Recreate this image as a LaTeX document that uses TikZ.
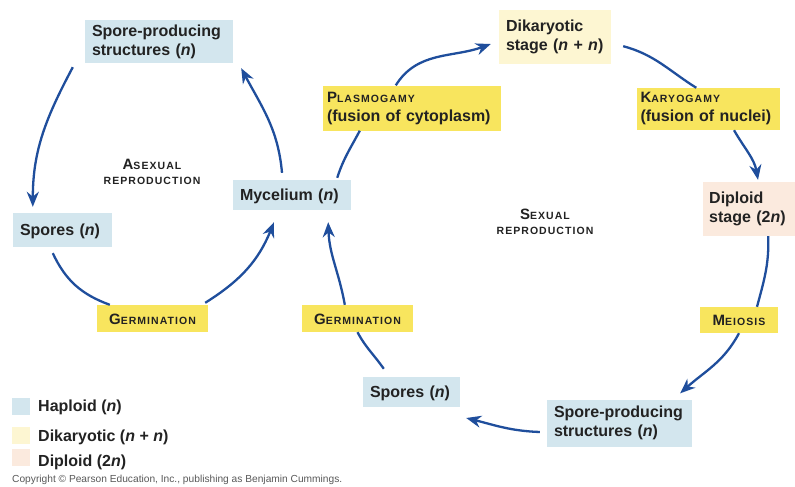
\documentclass[tikz,border=0pt]{standalone}
\usepackage{fontspec}
\setmainfont{Liberation Sans}
\newfontfamily\scfont[LetterSpace=10]{Liberation Sans}
\usetikzlibrary{arrows.meta,calc}
\definecolor{hapblue}{HTML}{D3E6EE}
\definecolor{dikyel}{HTML}{F8E55E}
\definecolor{dikpale}{HTML}{FDF6D2}
\definecolor{dippeach}{HTML}{FBEADE}
\definecolor{arrblue}{HTML}{1F4E9C}
\definecolor{txtdark}{HTML}{222222}
\newcommand\scw[2]{{\fontsize{15}{19}\selectfont #1}{\fontsize{10.5}{19}\selectfont\scfont #2}}
\newcommand\scs[1]{{\fontsize{10.5}{19}\selectfont\scfont #1}}
\begin{document}
\begin{tikzpicture}[x=1pt,y=-1pt,
  every node/.style={font=\fontsize{16}{19}\selectfont\bfseries, text=txtdark},
  box/.style={inner xsep=7pt, inner ysep=0pt, align=left},
  one/.style={text height=11.5pt, text depth=0pt},
  hap/.style={box, fill=hapblue},
  lab/.style={box, fill=dikyel},
  dik/.style={box, fill=dikpale},
  dip/.style={box, fill=dippeach},
  conn/.style={draw=arrblue, line width=2.3pt},
  arr/.style={conn, -{Stealth[length=15pt,width=12pt]}},
  legsq/.style={minimum width=18pt, minimum height=17pt, inner sep=0pt},
  title/.style={align=center, font=\fontsize{16}{19}\selectfont\bfseries}
]
\useasboundingbox (0,0) rectangle (795,487);
\fill[white] (0,0) rectangle (795,487);

% nodes
\node[hap, minimum width=148pt, minimum height=43pt, text width=134pt] (sp1) at (159,41.5) {Spore-producing\\structures (\textit{n})};
\node[hap, one, minimum width=99pt, minimum height=34pt, text width=85pt] (spo1) at (62.5,230) {Spores (\textit{n})};
\node[hap, one, minimum width=118pt, minimum height=30pt, text width=104pt] (myc) at (292,195) {Mycelium (\textit{n})};
\node[title] (asex) at (152,172) {\scw{A}{SEXUAL}\\[-4pt]\scs{REPRODUCTION}};
\node[lab, one, minimum width=111pt, minimum height=27pt, text width=97pt, align=center] (germ1) at (152.5,318.5) {\scw{G}{ERMINATION}};
\node[lab, minimum width=178pt, minimum height=45pt, text width=170pt, inner xsep=4pt] (plas) at (412,108) {\scw{P}{LASMOGAMY}\\(fusion of cytoplasm)};
\node[dik, minimum width=112pt, minimum height=54pt, text width=98pt] (dika) at (555,37) {Dikaryotic\\stage (\textit{n} + \textit{n})};
\node[lab, minimum width=143pt, minimum height=42pt, text width=135pt, inner xsep=4pt] (kary) at (708,109) {\scw{K}{ARYOGAMY}\\(fusion of nuclei)};
\node[dip, minimum width=92pt, minimum height=54pt, text width=80pt, inner xsep=6pt, anchor=west] (dipl) at (703,209) {Diploid\\stage (2\textit{n})};
\node[title] (sex) at (545,222) {\scw{S}{EXUAL}\\[-4pt]\scs{REPRODUCTION}};
\node[lab, one, minimum width=78pt, minimum height=26pt, text width=64pt, align=center] (meio) at (739,320) {\scw{M}{EIOSIS}};
\node[hap, minimum width=145pt, minimum height=47pt, text width=131pt] (sp2) at (619.5,423) {Spore-producing\\structures (\textit{n})};
\node[hap, one, minimum width=97pt, minimum height=30pt, text width=83pt] (spo2) at (411.5,392) {Spores (\textit{n})};
\node[lab, one, minimum width=111pt, minimum height=27pt, text width=97pt, align=center] (germ2) at (357.5,318.5) {\scw{G}{ERMINATION}};

% legend
\node[legsq, fill=hapblue] (lh) at (21,406) {};
\node[legsq, fill=dikpale] (ld) at (21,435) {};
\node[legsq, fill=dippeach] (lp) at (21,457) {};
\node[anchor=west, inner sep=0pt] (th) at (38,407) {Haploid (\textit{n})};
\node[anchor=west, inner sep=0pt] (td) at (38,437) {Dikaryotic (\textit{n} + \textit{n})};
\node[anchor=west, inner sep=0pt] (tp) at (38,462) {Diploid (2\textit{n})};
\node[anchor=west, inner sep=0pt, font=\fontsize{10.2}{12}\selectfont, text=black!65] (copy) at (12,480) {Copyright \textcopyright\ Pearson Education, Inc., publishing as Benjamin Cummings.};

% connectors
\draw[arr] ($(sp1.south west)+(-12,4)$) to[out=-118,in=90] ($(spo1.north west)+(20,-6)$);
\draw[arr] ($(myc.north)+(-10,-7)$) to[out=95,in=-62] ($(sp1.south east)+(8,5)$);
\draw[conn] ($(spo1.south west)+(40,6)$) to[out=-65,in=160] ($(germ1.north west)+(13,0)$);
\draw[arr] ($(germ1.north east)+(-3,-2)$) to[out=32,in=-112] ($(myc.south)+(-18,12)$);
\draw[conn] ($(myc.north east)+(-14,-2)$) to[out=72,in=-118] ($(plas.south west)+(37,0)$);
\draw[arr] ($(plas.north west)+(73,0)$) to[out=58,in=200] ($(dika.west)+(-8,7)$);
\draw[conn] ($(dika.south east)+(12,-18)$) to[out=-15,in=148] ($(kary.north west)+(60,0)$);
\draw[arr] ($(kary.south)+(26,0)$) to[out=-60,in=100] ($(dipl.north west)+(55,-2)$);
\draw[conn] ($(dipl.south)+(19,0)$) to[out=-88,in=75] ($(meio.north)+(18,0)$);
\draw[arr] ($(meio.south)+(0,0)$) to[out=-118,in=42] ($(sp2.north east)+(-12,-6)$);
\draw[arr] ($(sp2.west)+(-7,9)$) to[out=178,in=-14] ($(spo2.east)+(6,26)$);
\draw[conn] ($(spo2.north west)+(21,-8)$) to[out=125,in=-62] ($(germ2.south)+(0,0)$);
\draw[arr] ($(germ2.north west)+(43,0)$) to[out=100,in=-88] ($(myc.south east)+(-23,12)$);
\end{tikzpicture}
\end{document}
